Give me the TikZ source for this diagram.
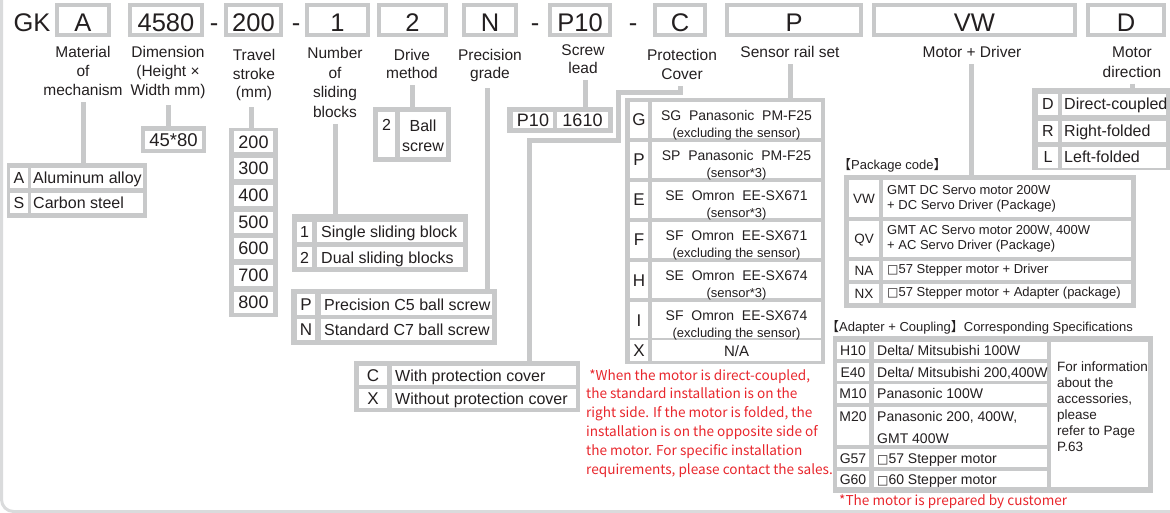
\documentclass[tikz,border=0pt]{standalone}
\usepackage{fontspec}
\setmainfont{Liberation Sans}
\newfontfamily\cjk{Noto Sans CJK SC}
\newfontfamily\symfont{DejaVu Sans}
\usepackage{tikz}
\usetikzlibrary{positioning,fit,calc}
\definecolor{framegray}{HTML}{C8C9CA}
\definecolor{edgegray}{HTML}{DADBDC}
\definecolor{ink}{HTML}{231F20}
\definecolor{notered}{HTML}{E8262C}
\newcommand\fsz[2]{\fontsize{#1}{#2}\selectfont}
\newcommand\sq{{\symfont\fsz{12}{12}\char"25A1}}
\tikzset{every node/.append style={text=ink}}
\tikzset{
  hbox/.style={draw=framegray, line width=4pt, fill=white, minimum height=30pt, inner sep=0pt, text height=24pt, text depth=0pt, font=\fsz{25.5}{28}},
  htext/.style={anchor=base, inner sep=0pt, font=\fsz{25.5}{28}},
  head/.style={anchor=north, inner sep=0pt, align=center, font=\fsz{15.5}{19}},
  link/.style={draw=framegray, line width=5pt, shorten <=6pt},
  frame/.style={fill=framegray, inner sep=0pt, outer sep=0pt},
  code/.style={inner sep=0pt, text height=11pt, text depth=0pt, font=\fsz{16}{19}},
  item/.style={code, anchor=west},
  num/.style={inner sep=0pt, text height=12.5pt, text depth=0pt, font=\fsz{18}{20}},
  note/.style={inner sep=0pt, align=left, text=notered, font=\cjk\fsz{13.6}{18.8}}
}

\begin{document}
\begin{tikzpicture}[x=1pt,y=-1pt]
  \useasboundingbox (0,0) rectangle (1170,513);
  \draw[edgegray, line width=3pt, rounded corners=12pt] (1.5,-10) -- (1.5,511.5) -- (1190,511.5);

  % model code
  \node[htext] (gk) at (32,32) {GK};
  \foreach \n/\x/\w/\t in {hA/83/52/A, h4580/166/72/4580, h200/253.5/55/200, h1/337.5/61/1, h2/412.5/67/2, hN/490/52/N, hP10/580/60/P10, hC/680/50/C, hP/794/134/P, hVW/974.5/201/VW, hD/1126/76/D}
    \node[hbox, minimum width=\w] (\n) at (\x,20) {\t};
  \foreach \n/\x in {dashA/214, dashB/296, dashC/535, dashD/633}
    \node[htext] (\n) at (\x,32) {-};

  % field names
  \node[head] (lMat) at (83,46.5) {Material\\of\\mechanism};
  \node[head] (lDim) at (168,46.5) {Dimension\\(Height ×\\Width mm)};
  \node[head, font=\fsz{15.5}{18.5}] (lTravel) at (254,49.5) {Travel\\stroke\\(mm)};
  \node[head, font=\fsz{15.5}{19.5}] (lNum) at (335,47.5) {Number\\of\\sliding\\blocks};
  \node[head, font=\fsz{15.5}{18}] (lDrive) at (412,49.5) {Drive\\method};
  \node[head, font=\fsz{15.5}{18}] (lPrec) at (490,49.5) {Precision\\grade};
  \node[head, font=\fsz{15.5}{18}] (lScrew) at (583,44.5) {Screw\\lead};
  \node[head] (lCover) at (682,49.5) {Protection\\Cover};
  \node[head] (lSensor) at (790,46.5) {Sensor rail set};
  \node[head] (lMotor) at (972,46.5) {Motor + Driver};
  \node[head, font=\fsz{15.5}{20}] (lDir) at (1132,46.5) {Motor\\direction};

  % material
  \node[frame, fit={(7,163) (147,218)}] (tMat) {};
  \foreach \y/\k/\t [count=\i] in {168/A/Aluminum alloy, 193/S/Carbon steel}{
    \fill[white] (10,\y) rectangle (28,\y+20);
    \fill[white] (31,\y) rectangle (143,\y+20);
    \node[code] (mat\i) at (19,\y+10) {\k};
    \node[item] (matT\i) at (33,\y+10) {\t};
  }

  % dimension
  \node[frame, fit={(141,126) (206,153)}] (tDim) {};
  \fill[white] (145,131) rectangle (202,149);
  \node[num, font=\fsz{18.5}{20}] (dim1) at (173.5,140) {45*80};

  % travel
  \node[frame, fit={(229,128) (278,317)}] (tTravel) {};
  \foreach \v [count=\i] in {200,300,...,800}{
    \pgfmathsetmacro\yc{142+(\i-1)*26.67}
    \fill[white] (234,\yc-10.5) rectangle (273,\yc+10.5);
    \node[num] (trv\i) at (253.5,\yc) {\v};
  }

  % sliding blocks
  \node[frame, fit={(292,214) (468,272)}] (tNum) {};
  \foreach \y/\k/\t [count=\i] in {222/1/Single sliding block, 247/2/Dual sliding blocks}{
    \fill[white] (297,\y) rectangle (312,\y+20);
    \fill[white] (317,\y) rectangle (463,\y+20);
    \node[code] (num\i) at (304.5,\y+10.5) {\k};
    \node[item] (numT\i) at (321,\y+10.5) {\t};
  }

  % drive method
  \node[frame, fit={(373,107) (451,162)}] (tDrive) {};
  \fill[white] (378,112) rectangle (395,157);
  \fill[white] (400,112) rectangle (446,157);
  \node[code] (drv1) at (386.5,125.5) {2};
  \node[anchor=north, inner sep=0pt, align=center, font=\fsz{16}{20}] (drvT) at (423,120) {Ball\\screw};

  % precision
  \node[frame, fit={(291,289) (497,345)}] (tPrec) {};
  \foreach \y/\k/\t [count=\i] in {294/P/Precision C5 ball screw, 319/N/Standard C7 ball screw}{
    \fill[white] (297,\y) rectangle (315,\y+20.5);
    \fill[white] (321,\y) rectangle (492,\y+20.5);
    \node[code, font=\fsz{17}{19}] (prc\i) at (306,\y+10.5) {\k};
    \node[item] (prcT\i) at (324,\y+10.5) {\t};
  }

  % screw lead
  \node[frame, fit={(507,107) (613,133)}] (tScrew) {};
  \fill[white] (513,112) rectangle (553,128);
  \fill[white] (557,112) rectangle (608,128);
  \node[num] (scr1) at (533,120.5) {P10};
  \node[num] (scr2) at (582.5,120.5) {1610};

  % protection cover
  \node[frame, fit={(354,361) (580,412)}] (tCover) {};
  \foreach \y/\k/\t [count=\i] in {366/C/With protection cover, 389/X/Without protection cover}{
    \fill[white] (359,\y) rectangle (387,\y+19);
    \fill[white] (392,\y) rectangle (576,\y+19);
    \node[code, font=\fsz{17}{19}] (cov\i) at (373,\y+10) {\k};
    \node[item] (covT\i) at (395,\y+10) {\t};
  }

  % sensor rail set
  \node[frame, fit={(625,98) (825,364)}] (tSensor) {};
  \foreach \k/\a/\b [count=\i] in {G/SG\ \ Panasonic\ \ PM-F25/excluding the sensor, P/SP\ \ Panasonic\ \ PM-F25/sensor*3, E/SE\ \ Omron\ \ EE-SX671/sensor*3, F/SF\ \ Omron\ \ EE-SX671/excluding the sensor, H/SE\ \ Omron\ \ EE-SX674/sensor*3, I/SF\ \ Omron\ \ EE-SX674/excluding the sensor}{
    \pgfmathsetmacro\yt{102+(\i-1)*40}
    \fill[white] (630,\yt) rectangle (648,\yt+36);
    \fill[white] (652,\yt) rectangle (821,\yt+36);
    \node[code, font=\fsz{17}{19}] (sen\i) at (639,\yt+18.5) {\k};
    \node[anchor=north, inner sep=0pt, align=center, font=\fsz{14}{17}] (senT\i) at (736.5,\yt+8.5) {\a\\{\fsz{13}{17}(\b)}};
  }
  \fill[white] (630,340) rectangle (648,361);
  \fill[white] (652,340) rectangle (821,361);
  \node[code, font=\fsz{17}{19}] (sen7) at (639,351) {X};
  \node[code, font=\fsz{15}{17}] (senT7) at (736.5,351) {N/A};

  % motor + driver
  \node[anchor=west, inner sep=0pt, font=\fsz{13}{15}] (pkgCap) at (838,165) {{\cjk 【}Package code{\cjk 】}};
  \node[frame, fit={(844,175) (1136,308)}] (tPkg) {};
  \foreach \y/\h/\k/\t [count=\i] in {180/37/VW/{GMT DC Servo motor 200W\\+ DC Servo Driver (Package)}, 221/36/QV/{GMT AC Servo motor 200W, 400W\\+ AC Servo Driver (Package)}, 261/19/NA/{\sq57 Stepper motor + Driver}, 284/19/NX/{\sq57 Stepper motor + Adapter (package)}}{
    \fill[white] (849,\y) rectangle (879,\y+\h);
    \fill[white] (883,\y) rectangle (1131,\y+\h);
    \node[code, text height=9.5pt, font=\fsz{13.5}{15}] (pkg\i) at (864,\y+\h/2) {\k};
    \node[anchor=west, inner sep=0pt, align=left, font=\fsz{13}{15}] (pkgT\i) at (887,\y+\h/2) {\t};
  }

  % motor direction
  \node[frame, fit={(1032,88) (1172,170)}] (tDir) {};
  \foreach \y/\k/\t [count=\i] in {94/D/Direct-coupled, 121/R/Right-folded, 147/L/Left-folded}{
    \fill[white] (1038,\y) rectangle (1058,\y+21);
    \fill[white] (1062,\y) rectangle (1166,\y+21);
    \node[code] (dir\i) at (1048,\y+10.5) {\k};
    \node[item] (dirT\i) at (1064,\y+10.5) {\t};
  }

  % adapter + coupling
  \node[anchor=west, inner sep=0pt, font=\fsz{13}{15}] (adpCap) at (826,327) {{\cjk 【}Adapter + Coupling{\cjk 】}Corresponding Specifications};
  \node[frame, fit={(833,336) (1153,493)}] (tAdp) {};
  \foreach \y/\h/\k/\t [count=\i] in {342/17/H10/{Delta/ Mitsubishi 100W}, 363/18/E40/{Delta/ Mitsubishi 200,400W}, 384/19/M10/{Panasonic 100W}, 449/18/G57/{\sq57 Stepper motor}, 471/16/G60/{\sq60 Stepper motor}}{
    \fill[white] (837,\y) rectangle (869,\y+\h);
    \fill[white] (874,\y) rectangle (1047,\y+\h);
    \node[code, text height=10pt, font=\fsz{14}{16}] (adp\i) at (853,\y+\h/2) {\k};
    \node[item, text height=10pt, font=\fsz{14}{16}] (adpT\i) at (877,\y+\h/2) {\t};
  }
  \fill[white] (837,407) rectangle (869,445);
  \fill[white] (874,407) rectangle (1047,445);
  \node[code, text height=10pt, font=\fsz{14}{16}] (adp6) at (853,416) {M20};
  \node[anchor=north west, inner sep=0pt, align=left, font=\fsz{14}{22}] (adpT6) at (877,411) {Panasonic 200, 400W,\\GMT 400W};
  \fill[white] (1051,342) rectangle (1148,487);
  \node[anchor=north west, inner sep=0pt, align=left, font=\fsz{13.5}{16}] (adpNote) at (1057,362) {For information\\about the\\accessories,\\please\\refer to Page\\P.63};

  % notes
  \node[note, anchor=north west] (noteDir) at (586,369) {\ *When the motor is direct-coupled,\\the standard installation is on the\\right side. If the motor is folded, the\\installation is on the opposite side of\\the motor. For specific installation\\requirements, please contact the sales.};
  \node[note, anchor=west] (noteCust) at (839,502) {*The motor is prepared by customer};

  % leader lines
  \coordinate (bendA) at (618,93);
  \coordinate (bendB) at (529,141);
  \draw[link] (lMat.south) -- (lMat.south |- tMat.north);
  \draw[link] (lDim.south) -- (lDim.south |- tDim.north);
  \draw[link] ([xshift=-3pt]lTravel.south) -- ([xshift=-3pt]lTravel.south |- tTravel.north);
  \draw[link] (lNum.south) -- (lNum.south |- tNum.north);
  \draw[link] (lDrive.south) -- (lDrive.south |- tDrive.north);
  \draw[link] ([xshift=-3pt]lPrec.south) -- ([xshift=-3pt]lPrec.south |- tPrec.north);
  \draw[link] ([xshift=2pt]lScrew.south) -- ([xshift=2pt]lScrew.south |- tScrew.north);
  \draw[link, line join=miter] ([xshift=-2pt]lCover.south) |- (bendA) |- (bendB) -- (bendB |- tCover.north);
  \draw[link] (lSensor.south) -- (lSensor.south |- tSensor.north);
  \draw[link] ([xshift=-1pt]lMotor.south) -- ([xshift=-1pt]lMotor.south |- tPkg.north);
  \draw[link] (lDir.south) -- (lDir.south |- tDir.north);
\end{tikzpicture}
\end{document}
